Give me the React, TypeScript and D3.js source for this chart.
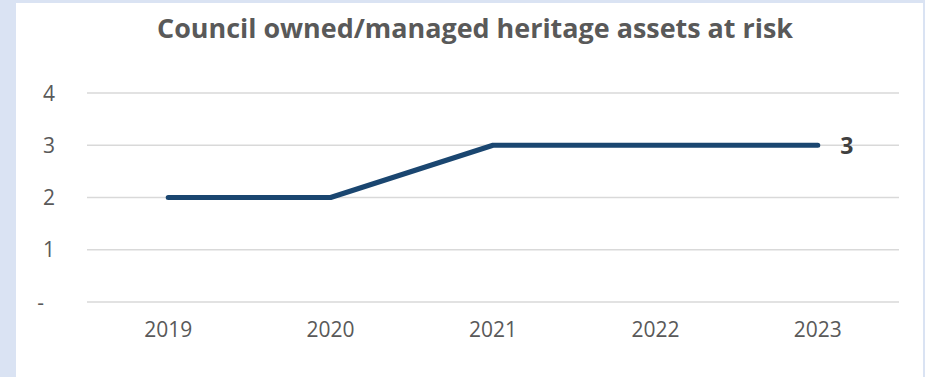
import React from "react";
import * as d3 from "d3";

const years = ["2019", "2020", "2021", "2022", "2023"];
const assetsAtRisk = [2, 2, 3, 3, 3];
const yTicks = [0, 1, 2, 3, 4];
const title = "Council owned/managed heritage assets at risk";

const W = 925;
const H = 377;
const plot = { left: 87, right: 899, top: 93, bottom: 302 };

export default function App() {
  const x = d3.scaleBand<string>().domain(years).range([plot.left, plot.right]);
  const y = d3.scaleLinear().domain([0, 4]).range([plot.bottom, plot.top]);
  const cx = (d: string) => (x(d) ?? 0) + x.bandwidth() / 2;

  const line = d3
    .line<number>()
    .x((_, i) => cx(years[i]))
    .y((v) => y(v));

  const lastIdx = assetsAtRisk.length - 1;
  const font = "'Open Sans', 'Liberation Sans', sans-serif";

  return (
    <div style={{ position: "fixed", left: 0, top: 0 }}>
      <svg width={W} height={H} style={{ display: "block" }}>
        <rect x={0} y={0} width={W} height={H} fill="#dae3f3" />
        <rect x={16} y={3} width={907} height={H - 3} fill="#ffffff" />
        <text
          x={475}
          y={38}
          textAnchor="middle"
          fontFamily={font}
          fontWeight={700}
          fontSize={27}
          fill="#595959"
          textLength={636}
          lengthAdjust="spacingAndGlyphs"
        >
          {title}
        </text>
        {yTicks.map((t) => (
          <g key={t}>
            <line
              x1={plot.left}
              x2={plot.right}
              y1={y(t)}
              y2={y(t)}
              stroke="#d9d9d9"
              strokeWidth={1.5}
            />
            <text
              x={t === 0 ? 44 : 55}
              y={y(t)}
              dy="0.36em"
              textAnchor="end"
              fontFamily={font}
              fontSize={21}
              fill="#595959"
            >
              {t === 0 ? "-" : String(t)}
            </text>
          </g>
        ))}
        {years.map((yr) => (
          <text
            key={yr}
            x={cx(yr)}
            y={337}
            textAnchor="middle"
            fontFamily={font}
            fontSize={21}
            fill="#595959"
          >
            {yr}
          </text>
        ))}
        <path
          d={line(assetsAtRisk) ?? ""}
          fill="none"
          stroke="#1a4670"
          strokeWidth={5}
          strokeLinecap="round"
          strokeLinejoin="round"
        />
        <text
          x={cx(years[lastIdx]) + 29}
          y={y(assetsAtRisk[lastIdx])}
          dy="0.36em"
          textAnchor="middle"
          fontFamily={font}
          fontWeight={700}
          fontSize={23}
          fill="#404040"
        >
          {String(assetsAtRisk[lastIdx])}
        </text>
      </svg>
    </div>
  );
}
